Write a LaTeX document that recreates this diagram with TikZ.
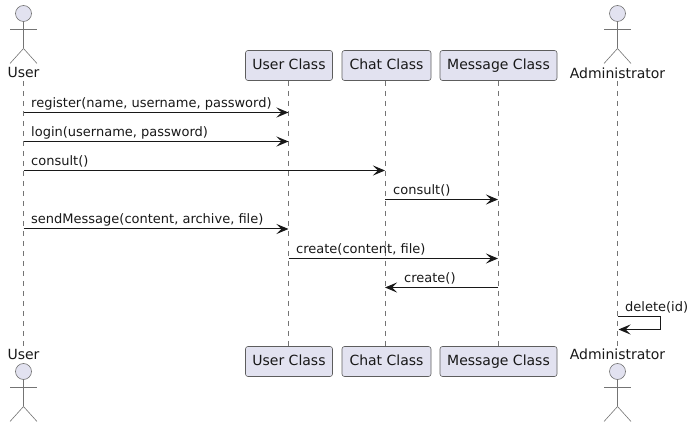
\documentclass[tikz,border=0pt]{standalone}
\usepackage{fontspec}
\setmainfont{DejaVu Sans}
\usetikzlibrary{arrows.meta}
\definecolor{umlfill}{HTML}{E2E2F0}
\definecolor{umlline}{HTML}{181818}
\tikzset{
  classbox/.style={draw=umlline!70!white,line width=0.6pt,fill=umlfill,rounded corners=2.5pt,minimum height=30pt,inner sep=0pt,text height=10.5pt,text depth=3pt,font=\fontsize{14}{16}\selectfont,text=umlline},
  actorname/.style={inner sep=0pt,font=\fontsize{14}{16}\selectfont,text=umlline},
  actorline/.style={draw=umlline!60!white,line width=0.6pt},
  lifeline/.style={draw=umlline!60!white,line width=0.6pt,dash pattern=on 5pt off 5pt},
  msg/.style={draw=umlline,line width=1pt,-{Stealth[length=12pt,width=10pt,inset=5pt]}},
  msgtext/.style={inner sep=0pt,anchor=base west,font=\fontsize{13}{15}\selectfont,text=umlline}
}
% stick figure: x, y of the head centre
\newcommand{\stickman}[2]{
  \draw [actorline,fill=umlfill] (#1,#2) circle (8);
  \draw [actorline] (#1,#2+8) -- (#1,#2+35) (#1-13.5,#2+15.5) -- (#1+13.5,#2+15.5);
  \draw [actorline] (#1-13.5,#2+50) -- (#1,#2+35) -- (#1+13.5,#2+50);
}
\begin{document}
\begin{tikzpicture}[x=1pt,y=-1pt]

\useasboundingbox (0,0) rectangle (694,427);

\stickman{23.5}{13.5}
\stickman{617.5}{13.5}
\stickman{23.5}{371.5}
\stickman{617.5}{371.5}

\node [actorname] (userT) at (23.5,73) {User};
\node [actorname] (adminT) at (617.5,73) {Administrator};
\node [actorname] (userB) at (23.5,354.5) {User};
\node [actorname] (adminB) at (617.5,354.5) {Administrator};

\node [classbox,minimum width=87pt] (userclassT) at (289,65.5) {User Class};
\node [classbox,minimum width=89pt] (chatclassT) at (386.5,65.5) {Chat Class};
\node [classbox,minimum width=117pt] (messageclassT) at (498.5,65.5) {Message Class};
\node [classbox,minimum width=87pt] (userclassB) at (289,361.5) {User Class};
\node [classbox,minimum width=89pt] (chatclassB) at (386.5,361.5) {Chat Class};
\node [classbox,minimum width=117pt] (messageclassB) at (498.5,361.5) {Message Class};

\coordinate (userS) at (23.5,81);
\coordinate (userE) at (23.5,346);
\coordinate (adminS) at (617.5,81);
\coordinate (adminE) at (617.5,346);
\coordinate (userclass) at (288.5,0);
\coordinate (chatclass) at (385,0);
\coordinate (messageclass) at (498,0);

\draw [lifeline] (userS) -- (userE);
\draw [lifeline] (adminS) -- (adminE);
\draw [lifeline] (userclass |- userclassT.south) -- (userclass |- userclassB.north);
\draw [lifeline] (chatclass |- chatclassT.south) -- (chatclass |- chatclassB.north);
\draw [lifeline] (messageclass |- messageclassT.south) -- (messageclass |- messageclassB.north);

\foreach \i/\y in {1/112.5,2/141.5,3/170.5,4/199.5,5/229,6/258.5,7/287.5,8/316.5,9/329.5}
  \coordinate (row\i) at (0,\y);

\draw [msg] (userS |- row1) -- (userclass |- row1);
\draw [msg] (userS |- row2) -- (userclass |- row2);
\draw [msg] (userS |- row3) -- (chatclass |- row3);
\draw [msg] (chatclass |- row4) -- (messageclass |- row4);
\draw [msg] (userS |- row5) -- (userclass |- row5);
\draw [msg] (userclass |- row6) -- (messageclass |- row6);
\draw [msg] (messageclass |- row7) -- (chatclass |- row7);
\draw [msg] (adminS |- row8) -- ++(43,0) |- ([xshift=1pt]adminS |- row9);

\node [msgtext] (register) at (31,107.5) {register(name, username, password)};
\node [msgtext] (login) at (31,136.5) {login(username, password)};
\node [msgtext] (consulta) at (31,165.5) {consult()};
\node [msgtext] (consultb) at (393,194.5) {consult()};
\node [msgtext] (send) at (31,224) {sendMessage(content, archive, file)};
\node [msgtext] (createa) at (296,253.5) {create(content, file)};
\node [msgtext] (createb) at (404,282.5) {create()};
\node [msgtext] (delete) at (625,311.5) {delete(id)};

\end{tikzpicture}
\end{document}
